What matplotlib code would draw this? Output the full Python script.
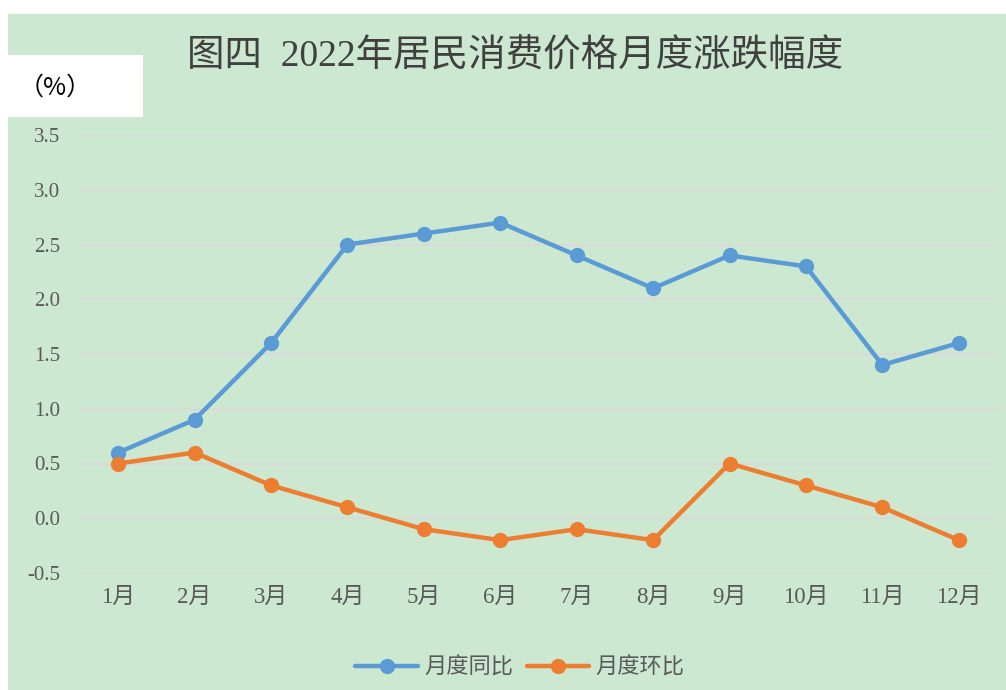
import matplotlib.pyplot as plt
from matplotlib.patches import Rectangle

months = ['1月', '2月', '3月', '4月', '5月', '6月', '7月', '8月', '9月', '10月', '11月', '12月']
yoy = [0.6, 0.9, 1.6, 2.5, 2.6, 2.7, 2.4, 2.1, 2.4, 2.3, 1.4, 1.6]
mom = [0.5, 0.6, 0.3, 0.1, -0.1, -0.2, -0.1, -0.2, 0.5, 0.3, 0.1, -0.2]
yticks = [-0.5, 0.0, 0.5, 1.0, 1.5, 2.0, 2.5, 3.0, 3.5]

serif = ['Liberation Serif', 'Noto Sans CJK SC']
bg = '#cde8d0'

fig = plt.figure(figsize=(10.06, 6.90), dpi=100, facecolor='white')
fig.patches.append(Rectangle((8 / 1006, 0), 1, 676 / 690, transform=fig.transFigure,
                             facecolor=bg, edgecolor='none', zorder=-2))
fig.patches.append(Rectangle((8 / 1006, 1 - 117 / 690), 135 / 1006, 62 / 690,
                             transform=fig.transFigure, facecolor='white',
                             edgecolor='none', zorder=-1))

ax = fig.add_axes([80 / 1006, 1 - 573 / 690, 917 / 1006, 438 / 690])
ax.set_facecolor('none')
x = range(len(months))
ax.plot(x, yoy, color='#5b9bd5', lw=3.2, marker='o', ms=10, label='月度同比',
        solid_capstyle='round', zorder=3)
ax.plot(x, mom, color='#ed7d31', lw=3.2, marker='o', ms=10, label='月度环比',
        solid_capstyle='round', zorder=3)

ax.set_xlim(-0.5, 11.5)
ax.set_ylim(-0.5, 3.5)
ax.set_yticks(yticks)
ax.set_yticklabels([f'{v:.1f}' for v in yticks], family=serif, fontsize=15, color='#595959')
ax.set_xticks(list(x))
ax.set_xticklabels(months, family=serif, fontsize=16.5, color='#595959', fontweight='light')
ax.grid(axis='y', color='#d9d9d9', lw=1.5)
ax.set_axisbelow(True)
for s in ax.spines.values():
    s.set_visible(False)
ax.tick_params(length=0)
ax.tick_params(axis='y', pad=14)
ax.tick_params(axis='x', pad=10)

fig.text(515 / 1006, 1 - 57 / 690, '图四  2022年居民消费价格月度涨跌幅度', family=serif,
         fontsize=27, color='#404040', ha='center', va='center', fontweight='light')
fig.text(55 / 1006, 1 - 88 / 690, '（%）', family=['Noto Sans CJK SC', 'DejaVu Sans'],
         fontsize=18, color='black', ha='center', va='center')

leg = fig.legend(loc='center', bbox_to_anchor=(520 / 1006, 1 - 668 / 690), ncol=2,
                 frameon=False, prop={'family': serif, 'size': 16, 'weight': 'light'},
                 handlelength=2.8, columnspacing=0.6, handletextpad=0.3)
for t in leg.get_texts():
    t.set_color('#595959')

fig.savefig('out.png', dpi=100, facecolor='white')
